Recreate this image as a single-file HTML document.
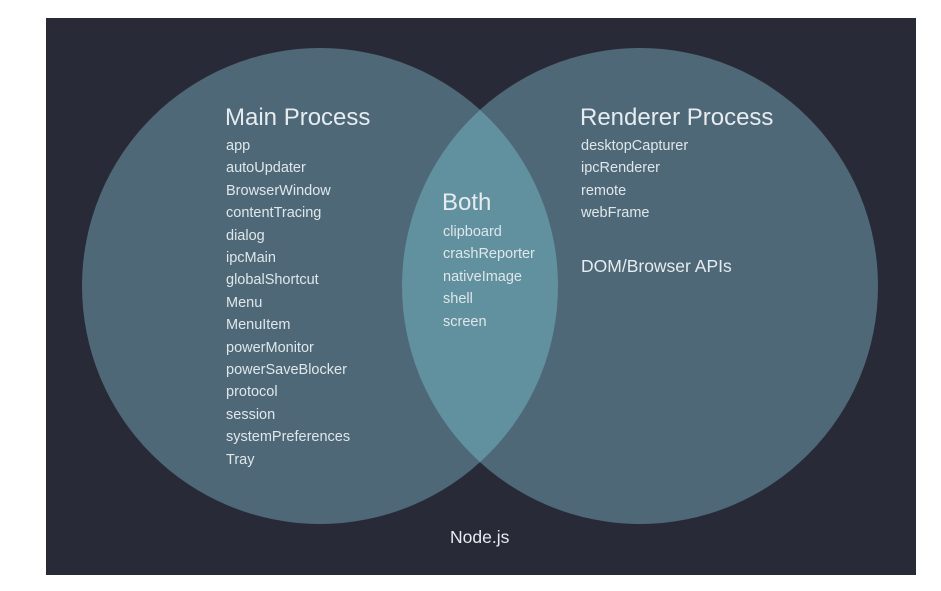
<!DOCTYPE html>
<html><head><style>
html,body{margin:0;padding:0;background:#fff;}
body{width:941px;height:591px;position:relative;overflow:hidden;font-family:"Liberation Sans",sans-serif;}
.t{position:absolute;color:#e6ecef;white-space:nowrap;}
.h{font-size:24px;}
.i{font-size:14.5px;line-height:22.4px;color:#dfe7ea;}
</style></head><body>
<svg width="941" height="591" style="position:absolute;left:0;top:0">
<rect x="46" y="18" width="870" height="557" fill="#282a37"/>
<defs><clipPath id="c"><circle cx="320" cy="286" r="238"/></clipPath></defs>
<circle cx="320" cy="286" r="238" fill="#4e6878"/>
<circle cx="640" cy="286" r="238" fill="#4e6878"/>
<circle cx="640" cy="286" r="238" fill="#61909e" clip-path="url(#c)"/>
</svg>
<div class="t h" style="left:225px;top:104px">Main Process</div>
<div class="t i" style="left:226px;top:135px">app<br>autoUpdater<br>BrowserWindow<br>contentTracing<br>dialog<br>ipcMain<br>globalShortcut<br>Menu<br>MenuItem<br>powerMonitor<br>powerSaveBlocker<br>protocol<br>session<br>systemPreferences<br>Tray</div>
<div class="t h" style="left:580px;top:104px">Renderer Process</div>
<div class="t i" style="left:581px;top:135px">desktopCapturer<br>ipcRenderer<br>remote<br>webFrame</div>
<div class="t" style="left:581px;top:256px;font-size:17.5px">DOM/Browser APIs</div>
<div class="t h" style="left:442px;top:189px">Both</div>
<div class="t i" style="left:443px;top:221px">clipboard<br>crashReporter<br>nativeImage<br>shell<br>screen</div>
<div class="t" style="left:450px;top:527px;font-size:17.5px">Node.js</div>
</body></html>
